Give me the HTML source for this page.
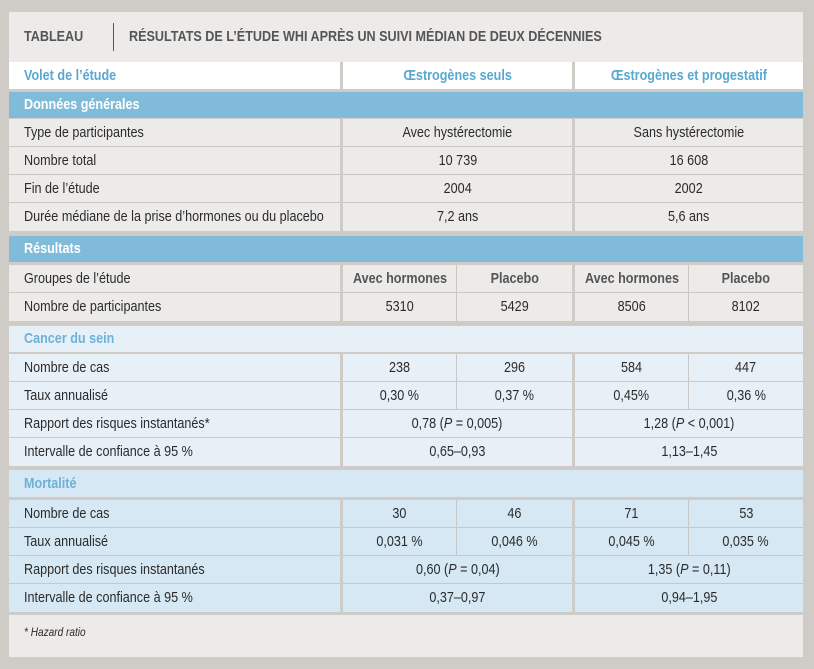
<!DOCTYPE html><html><head><meta charset="utf-8"><style>
body{margin:0;width:814px;height:669px;background:#cfccc8;position:relative;overflow:hidden;font-family:"Liberation Sans",sans-serif;font-size:15px;color:#2b2b2b}
div{position:absolute;box-sizing:border-box}
.r{height:27px;line-height:27px;white-space:nowrap}
.l{padding-left:15px}
.c{text-align:center}
.b{font-weight:bold}
span{display:inline-block;transform:scaleX(.84);transform-origin:center}
.l span,.t span{transform-origin:left}
</style></head><body>
<div style="left:9px;top:12px;width:794px;height:645px;background:#ecebea"></div>
<div class="t" style="left:24px;top:26px;line-height:22px;font-size:15px;font-weight:bold;color:#555;white-space:nowrap"><span>TABLEAU</span></div>
<div style="left:113px;top:23px;width:1px;height:28px;background:#555"></div>
<div class="t" style="left:129px;top:26px;line-height:22px;font-size:15px;font-weight:bold;color:#555;white-space:nowrap"><span>RÉSULTATS DE L’ÉTUDE WHI APRÈS UN SUIVI MÉDIAN DE DEUX DÉCENNIES</span></div>

<div class="r l b" style="left:9px;top:62px;width:331px;background:#fff;color:#5aa8d0"><span>Volet de l’étude</span></div>
<div class="r c b" style="left:343px;top:62px;width:229px;background:#fff;color:#5aa8d0"><span>Œstrogènes seuls</span></div>
<div class="r c b" style="left:575px;top:62px;width:228px;background:#fff;color:#5aa8d0"><span>Œstrogènes et progestatif</span></div>

<div class="r l b" style="left:9px;top:92px;width:794px;height:26px;line-height:26px;background:#80bcda;color:#fff"><span>Données générales</span></div>
<div style="left:9px;top:146px;width:794px;height:1px;background:#c9c7c4"></div>
<div style="left:9px;top:174px;width:794px;height:1px;background:#c9c7c4"></div>
<div style="left:9px;top:202px;width:794px;height:1px;background:#c9c7c4"></div>
<div class="r l" style="left:9px;top:119px"><span>Type de participantes</span></div>
<div class="r l" style="left:9px;top:147px"><span>Nombre total</span></div>
<div class="r l" style="left:9px;top:175px"><span>Fin de l’étude</span></div>
<div class="r l" style="left:9px;top:203px"><span>Durée médiane de la prise d’hormones ou du placebo</span></div>
<div class="r c" style="left:343px;top:119px;width:229px"><span>Avec hystérectomie</span></div>
<div class="r c" style="left:343px;top:147px;width:229px"><span>10 739</span></div>
<div class="r c" style="left:343px;top:175px;width:229px"><span>2004</span></div>
<div class="r c" style="left:343px;top:203px;width:229px"><span>7,2 ans</span></div>
<div class="r c" style="left:575px;top:119px;width:228px"><span>Sans hystérectomie</span></div>
<div class="r c" style="left:575px;top:147px;width:228px"><span>16 608</span></div>
<div class="r c" style="left:575px;top:175px;width:228px"><span>2002</span></div>
<div class="r c" style="left:575px;top:203px;width:228px"><span>5,6 ans</span></div>
<div style="left:340px;top:62px;width:3px;height:27px;background:#cfccc8"></div>
<div style="left:572px;top:62px;width:3px;height:27px;background:#cfccc8"></div>
<div style="left:340px;top:119px;width:3px;height:113px;background:#cfccc8"></div>
<div style="left:572px;top:119px;width:3px;height:113px;background:#cfccc8"></div>
<div style="left:9px;top:89px;width:794px;height:3px;background:#cfccc8"></div>
<div style="left:9px;top:118px;width:794px;height:1px;background:#cfccc8"></div>
<div style="left:9px;top:231px;width:794px;height:5px;background:#cfccc8"></div>

<div class="r l b" style="left:9px;top:236px;width:794px;height:26px;line-height:26px;background:#80bcda;color:#fff"><span>Résultats</span></div>
<div style="left:9px;top:262px;width:794px;height:3px;background:#cfccc8"></div>
<div style="left:9px;top:292px;width:794px;height:1px;background:#c9c7c4"></div>
<div class="r l" style="left:9px;top:265px"><span>Groupes de l’étude</span></div>
<div class="r l" style="left:9px;top:293px"><span>Nombre de participantes</span></div>
<div class="r c b" style="left:343px;top:265px;width:113px;color:#555"><span>Avec hormones</span></div>
<div class="r c b" style="left:457px;top:265px;width:115px;color:#555"><span>Placebo</span></div>
<div class="r c b" style="left:575px;top:265px;width:113px;color:#555"><span>Avec hormones</span></div>
<div class="r c b" style="left:689px;top:265px;width:114px;color:#555"><span>Placebo</span></div>
<div class="r c" style="left:343px;top:293px;width:113px"><span>5310</span></div>
<div class="r c" style="left:457px;top:293px;width:115px"><span>5429</span></div>
<div class="r c" style="left:575px;top:293px;width:113px"><span>8506</span></div>
<div class="r c" style="left:689px;top:293px;width:114px"><span>8102</span></div>
<div style="left:340px;top:265px;width:3px;height:56px;background:#cfccc8"></div>
<div style="left:572px;top:265px;width:3px;height:56px;background:#cfccc8"></div>
<div style="left:456px;top:265px;width:1px;height:56px;background:#c9c7c4"></div>
<div style="left:688px;top:265px;width:1px;height:56px;background:#c9c7c4"></div>
<div style="left:9px;top:321px;width:794px;height:5px;background:#cfccc8"></div>

<div class="r l b" style="left:9px;top:326px;width:794px;height:26px;line-height:26px;background:#e7f0f7;color:#6db2d8"><span>Cancer du sein</span></div>
<div style="left:9px;top:352px;width:794px;height:2px;background:#cfccc8"></div>
<div style="left:9px;top:354px;width:794px;height:112px;background:#e7f0f7"></div>
<div style="left:9px;top:381px;width:794px;height:1px;background:#c9c9c9"></div>
<div style="left:9px;top:409px;width:794px;height:1px;background:#c9c9c9"></div>
<div style="left:9px;top:437px;width:794px;height:1px;background:#c9c9c9"></div>
<div class="r l" style="left:9px;top:354px"><span>Nombre de cas</span></div>
<div class="r l" style="left:9px;top:382px"><span>Taux annualisé</span></div>
<div class="r l" style="left:9px;top:410px"><span>Rapport des risques instantanés*</span></div>
<div class="r l" style="left:9px;top:438px"><span>Intervalle de confiance à 95 %</span></div>
<div class="r c" style="left:343px;top:354px;width:113px"><span>238</span></div>
<div class="r c" style="left:457px;top:354px;width:115px"><span>296</span></div>
<div class="r c" style="left:575px;top:354px;width:113px"><span>584</span></div>
<div class="r c" style="left:689px;top:354px;width:114px"><span>447</span></div>
<div class="r c" style="left:343px;top:382px;width:113px"><span>0,30 %</span></div>
<div class="r c" style="left:457px;top:382px;width:115px"><span>0,37 %</span></div>
<div class="r c" style="left:575px;top:382px;width:113px"><span>0,45%</span></div>
<div class="r c" style="left:689px;top:382px;width:114px"><span>0,36 %</span></div>
<div class="r c" style="left:343px;top:410px;width:229px"><span>0,78 (<i>P</i> = 0,005)</span></div>
<div class="r c" style="left:575px;top:410px;width:228px"><span>1,28 (<i>P</i> &lt; 0,001)</span></div>
<div class="r c" style="left:343px;top:438px;width:229px"><span>0,65–0,93</span></div>
<div class="r c" style="left:575px;top:438px;width:228px"><span>1,13–1,45</span></div>
<div style="left:340px;top:354px;width:3px;height:112px;background:#cfccc8"></div>
<div style="left:572px;top:354px;width:3px;height:112px;background:#cfccc8"></div>
<div style="left:456px;top:354px;width:1px;height:55px;background:#c9c9c9"></div>
<div style="left:688px;top:354px;width:1px;height:55px;background:#c9c9c9"></div>
<div style="left:9px;top:466px;width:794px;height:4px;background:#cfccc8"></div>

<div class="r l b" style="left:9px;top:470px;width:794px;height:27px;background:#d6e8f3;color:#6db2d8"><span>Mortalité</span></div>
<div style="left:9px;top:497px;width:794px;height:3px;background:#cfccc8"></div>
<div style="left:9px;top:500px;width:794px;height:112px;background:#d6e8f3"></div>
<div style="left:9px;top:527px;width:794px;height:1px;background:#c4c8cb"></div>
<div style="left:9px;top:555px;width:794px;height:1px;background:#c4c8cb"></div>
<div style="left:9px;top:583px;width:794px;height:1px;background:#c4c8cb"></div>
<div class="r l" style="left:9px;top:500px"><span>Nombre de cas</span></div>
<div class="r l" style="left:9px;top:528px"><span>Taux annualisé</span></div>
<div class="r l" style="left:9px;top:556px"><span>Rapport des risques instantanés</span></div>
<div class="r l" style="left:9px;top:584px"><span>Intervalle de confiance à 95 %</span></div>
<div class="r c" style="left:343px;top:500px;width:113px"><span>30</span></div>
<div class="r c" style="left:457px;top:500px;width:115px"><span>46</span></div>
<div class="r c" style="left:575px;top:500px;width:113px"><span>71</span></div>
<div class="r c" style="left:689px;top:500px;width:114px"><span>53</span></div>
<div class="r c" style="left:343px;top:528px;width:113px"><span>0,031 %</span></div>
<div class="r c" style="left:457px;top:528px;width:115px"><span>0,046 %</span></div>
<div class="r c" style="left:575px;top:528px;width:113px"><span>0,045 %</span></div>
<div class="r c" style="left:689px;top:528px;width:114px"><span>0,035 %</span></div>
<div class="r c" style="left:343px;top:556px;width:229px"><span>0,60 (<i>P</i> = 0,04)</span></div>
<div class="r c" style="left:575px;top:556px;width:228px"><span>1,35 (<i>P</i> = 0,11)</span></div>
<div class="r c" style="left:343px;top:584px;width:229px"><span>0,37–0,97</span></div>
<div class="r c" style="left:575px;top:584px;width:228px"><span>0,94–1,95</span></div>
<div style="left:340px;top:500px;width:3px;height:112px;background:#cfccc8"></div>
<div style="left:572px;top:500px;width:3px;height:112px;background:#cfccc8"></div>
<div style="left:456px;top:500px;width:1px;height:55px;background:#c4c8cb"></div>
<div style="left:688px;top:500px;width:1px;height:55px;background:#c4c8cb"></div>

<div style="left:9px;top:612px;width:794px;height:3px;background:#cfccc8"></div>
<div class="t" style="left:24px;top:623px;font-size:12px;font-style:italic;line-height:18px;white-space:nowrap"><span>* Hazard ratio</span></div>
</body></html>
